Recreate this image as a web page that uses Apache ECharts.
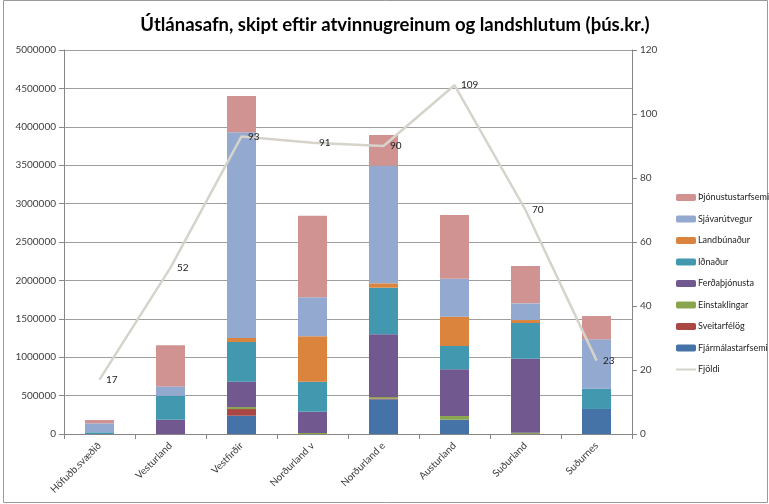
<!DOCTYPE html>
<html>
<head>
<meta charset="utf-8">
<script src="https://cdn.jsdelivr.net/npm/echarts@6/dist/echarts.min.js"></script>
<style>
  html, body { margin: 0; padding: 0; background: #fff; }
  #chart { width: 769px; height: 504px; }
</style>
</head>
<body>
<div id="chart"></div>
<script>
const categories = ["Höfuðb.svæðið", "Vesturland", "Vestfirðir", "Norðurland v", "Norðurland e", "Austurland", "Suðurland", "Suðurnes"];

// stacked from bottom to top
const fjarmal = [0, 0, 238000, 0, 452000, 186000, 0, 326000];
const sveitarfelog = [0, 0, 87000, 0, 10000, 0, 0, 0];
const einstaklingar = [0, 0, 26000, 13000, 20000, 48000, 16000, 0];
const ferdathjonusta = [0, 186000, 330000, 277000, 816000, 608000, 964000, 0];
const idnadur = [22000, 312000, 517000, 391000, 607000, 304000, 465000, 264000];
const landbunadur = [0, 0, 52000, 591000, 57000, 382000, 39000, 0];
const sjavarutvegur = [117000, 122000, 2678000, 508000, 1531000, 495000, 217000, 643000];
const thjonusta = [43000, 534000, 473000, 1062000, 400000, 827000, 486000, 303000];
const fjoldi = [17, 52, 93, 91, 90, 109, 70, 23];

const leftTicks = { min: 0, max: 5000000, interval: 500000 };
const rightTicks = { min: 0, max: 120, interval: 20 };

const font = "Lato";
const textColor = "#404040";

const barSeries = [
  { name: "Fjármálastarfsemi", data: fjarmal, color: "#4572a7" },
  { name: "Sveitarfélög", data: sveitarfelog, color: "#aa4643" },
  { name: "Einstaklingar", data: einstaklingar, color: "#89a54e" },
  { name: "Ferðaþjónusta", data: ferdathjonusta, color: "#71588f" },
  { name: "Iðnaður", data: idnadur, color: "#4198af" },
  { name: "Landbúnaður", data: landbunadur, color: "#db843d" },
  { name: "Sjávarútvegur", data: sjavarutvegur, color: "#93a9cf" },
  { name: "Þjónustustarfsemi", data: thjonusta, color: "#d19392" }
].map(s => ({
  name: s.name,
  type: "bar",
  stack: "total",
  barWidth: 29,
  data: s.data,
  itemStyle: { color: s.color }
}));

const legendNames = barSeries.map(s => s.name).reverse()
  .concat([{ name: "Fjöldi", itemStyle: { opacity: 0 } }]);

const chart = echarts.init(document.getElementById("chart"));
chart.setOption({
  animation: false,
  textStyle: { fontFamily: font },
  title: {
    text: "Útlánasafn, skipt eftir atvinnugreinum og landshlutum (þús.kr.)",
    left: 390,
    textAlign: "center",
    top: 11,
    textStyle: { fontFamily: font, fontSize: 18.5, fontWeight: "bold", color: "#000" }
  },
  graphic: [{
    type: "rect",
    shape: { x: 3.5, y: 0.5, width: 764, height: 502 },
    style: { fill: "none", stroke: "#9a9a9a", lineWidth: 1 },
    silent: true
  }],
  legend: {
    orient: "vertical",
    left: 675,
    top: 193,
    width: 94,
    padding: 0,
    itemWidth: 20,
    itemHeight: 7,
    itemGap: 12.5,
    data: legendNames,
    textStyle: { fontFamily: font, fontSize: 9, color: "#222", overflow: "none", padding: [0, 0, 0, -3] }
  },
  grid: { left: 64, right: 137, top: 50, bottom: 70 },
  xAxis: {
    type: "category",
    data: categories,
    axisLine: { lineStyle: { color: "#868686" } },
    axisTick: { show: true, length: 5, lineStyle: { color: "#868686" } },
    axisLabel: { rotate: 45, fontSize: 10, color: textColor, margin: 10 }
  },
  yAxis: [{
    type: "value",
    min: leftTicks.min,
    max: leftTicks.max,
    interval: leftTicks.interval,
    axisLine: { show: true, lineStyle: { color: "#868686" } },
    axisTick: { show: true, length: 5, lineStyle: { color: "#868686" } },
    axisLabel: { fontSize: 10, color: textColor, margin: 8, formatter: v => String(v) },
    splitLine: { lineStyle: { color: "#9e9e9e" } }
  }, {
    type: "value",
    min: rightTicks.min,
    max: rightTicks.max,
    interval: rightTicks.interval,
    position: "right",
    axisLine: { show: true, lineStyle: { color: "#868686" } },
    axisTick: { show: true, length: 5, lineStyle: { color: "#868686" } },
    axisLabel: { fontSize: 10, color: textColor, margin: 8 },
    splitLine: { show: false }
  }],
  series: barSeries.concat([{
    name: "Fjöldi",
    type: "line",
    yAxisIndex: 1,
    data: fjoldi,
    symbol: "circle",
    symbolSize: 1,
    lineStyle: { color: "#d6d3cb", width: 2.5 },
    itemStyle: { color: "#d6d3cb" },
    label: { show: true, position: "right", distance: 6, fontSize: 10, color: "#222" }
  }])
});
</script>
</body>
</html>
